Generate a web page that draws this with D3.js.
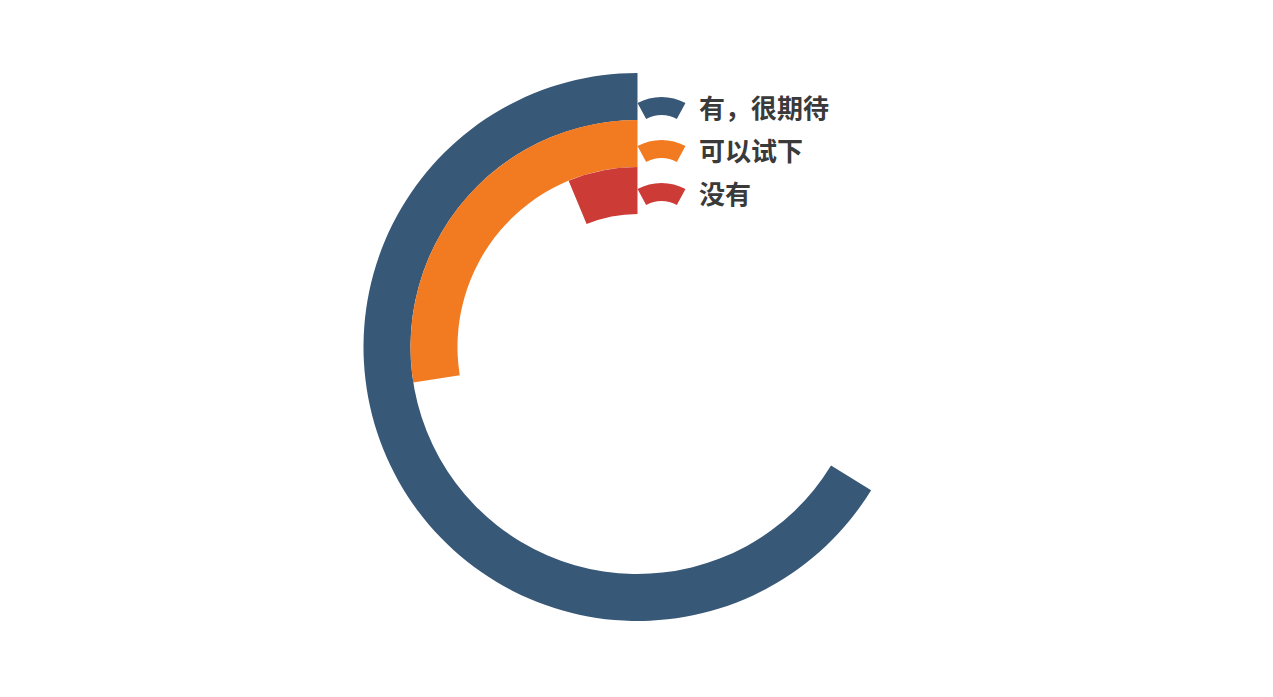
<!DOCTYPE html>
<html>
<head>
<meta charset="utf-8">
<script src="https://cdn.jsdelivr.net/npm/d3@7"></script>
<style>
  html, body { margin: 0; padding: 0; background: #fff; }
  svg { display: block; }
</style>
</head>
<body>
<div id="chart"></div>
<script>
// 数据
const categories = ["有，很期待", "可以试下", "没有"];
const values = [106, 44, 10];
const colors = ["#385878", "#f27b22", "#cd3b37"];

const width = 1273, height = 697;
const cx = 637.5, cy = 347;
const innerR = 133, outerR = 274;

const svg = d3.select("#chart").append("svg")
    .attr("width", width)
    .attr("height", height);

// 半径：第一个类别在最外圈
const rScale = d3.scaleBand()
    .domain(categories.slice().reverse())
    .range([innerR, outerR])
    .paddingInner(0);

// 角度：逆时针，从正上方开始
const total = d3.sum(values);
const aScale = d3.scaleLinear().domain([0, total]).range([0, 2 * Math.PI]);

const bars = svg.append("g").attr("transform", `translate(${cx},${cy})`);
const arc = d3.arc()
    .innerRadius(d => rScale(d.name))
    .outerRadius(d => rScale(d.name) + rScale.bandwidth())
    .startAngle(0)
    .endAngle(d => -aScale(d.value));

const rows = categories.map((name, i) => ({ name, value: values[i], color: colors[i] }));

bars.selectAll("path")
    .data(rows)
    .join("path")
    .attr("fill", d => d.color)
    .attr("d", arc);

// 图例（扇环形图标）
const iconArc = d3.arc()
    .innerRadius(32)
    .outerRadius(50)
    .startAngle(-0.5)
    .endAngle(0.5);

const legend = svg.append("g").attr("class", "legend");
const item = legend.selectAll("g")
    .data(rows)
    .join("g")
    .attr("transform", (d, i) => `translate(0, ${106 + i * 43})`);

item.append("path")
    .attr("transform", "translate(661.5, 41)")
    .attr("fill", d => d.color)
    .attr("d", iconArc);

item.append("text")
    .attr("x", 699)
    .attr("y", 0)
    .attr("dominant-baseline", "central")
    .style("font-family", "'Noto Sans CJK SC', sans-serif")
    .style("font-weight", "bold")
    .style("font-size", "26px")
    .style("fill", "#3a3a3a")
    .text(d => d.name);
</script>
</body>
</html>
